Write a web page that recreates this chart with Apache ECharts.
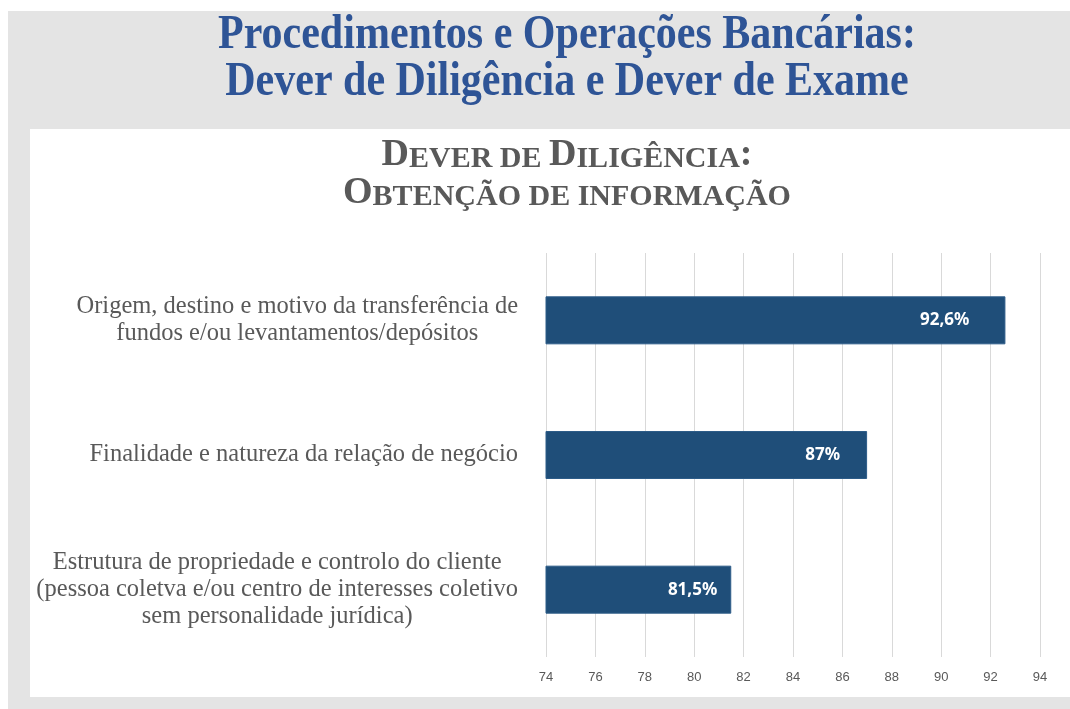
<!DOCTYPE html>
<html>
<head>
<meta charset="utf-8">
<script src="https://cdn.jsdelivr.net/npm/echarts@6/dist/echarts.min.js"></script>
<style>
  html, body { margin: 0; padding: 0; background: #fff; }
  #chart { width: 1070px; height: 709px; }
</style>
</head>
<body>
<div id="chart"></div>
<script>
// dados
const categories = [
  'Origem, destino e motivo da transferência de\nfundos e/ou levantamentos/depósitos',
  'Finalidade e natureza da relação de negócio',
  'Estrutura de propriedade e controlo do cliente\n(pessoa coletva e/ou centro de interesses coletivo\nsem personalidade jurídica)'
];
const values = [92.6, 87, 81.5];
const axisMin = 74;
const axisMax = 94;
const axisStep = 2;

// distancia do rotulo ao fim da barra (estilo, como no original)
const labelGaps = [36, 27, 14];

const serif = '"Liberation Serif", "Times New Roman", serif';
const grey = '#595959';

const chart = echarts.init(document.getElementById('chart'));

// subtitulo em versaletes
function smallCaps(parts, y) {
  return {
    type: 'text', x: 567, y: y, z: 10,
    style: {
      text: parts, align: 'center', verticalAlign: 'bottom',
      rich: {
        b: { fontFamily: serif, fontSize: 38, fontWeight: 'bold', fill: grey, verticalAlign: 'bottom', lineHeight: 40 },
        s: { fontFamily: serif, fontSize: 30, fontWeight: 'bold', fill: grey, verticalAlign: 'bottom', lineHeight: 40 }
      }
    }
  };
}

const option = {
  backgroundColor: '#e4e4e4',
  animation: false,
  graphic: [
    { type: 'rect', z: -10, shape: { x: 0, y: 0, width: 1070, height: 11 }, style: { fill: '#fff' } },
    { type: 'rect', z: -10, shape: { x: 0, y: 0, width: 8, height: 709 }, style: { fill: '#fff' } },
    { type: 'rect', z: -10, shape: { x: 30, y: 129, width: 1040, height: 568 }, style: { fill: '#fff' } },
    {
      type: 'text', x: 567, y: 36, scaleX: 0.875, z: 10,
      style: { text: 'Procedimentos e Operações Bancárias:', fontFamily: serif, fontSize: 48, fontWeight: 'bold', fill: '#2e5496', align: 'center', verticalAlign: 'middle' }
    },
    {
      type: 'text', x: 567, y: 83, scaleX: 0.875, z: 10,
      style: { text: 'Dever de Diligência e Dever de Exame', fontFamily: serif, fontSize: 48, fontWeight: 'bold', fill: '#2e5496', align: 'center', verticalAlign: 'middle' }
    },
    smallCaps('{b|D}{s|EVER DE }{b|D}{s|ILIGÊNCIA}{b|:}', 174),
    smallCaps('{b|O}{s|BTENÇÃO DE INFORMAÇÃO}', 212)
  ],
  grid: { left: 546, right: 30, top: 253, bottom: 52, containLabel: false },
  xAxis: {
    type: 'value',
    min: axisMin,
    max: axisMax,
    interval: axisStep,
    axisLine: { show: false },
    axisTick: { show: false },
    splitLine: { show: true, lineStyle: { color: '#d9d9d9', width: 1 } },
    axisLabel: {
      margin: 14,
      color: grey,
      fontSize: 13,
      fontFamily: '"Liberation Sans Narrow", "Liberation Sans", sans-serif'
    }
  },
  yAxis: {
    type: 'category',
    inverse: true,
    data: categories,
    axisLine: { show: false },
    axisTick: { show: false },
    axisLabel: {
      margin: 28,
      align: 'right',
      formatter: function (v) {
        return v.split('\n').map(function (l) { return '{a|' + l + '}'; }).join('\n');
      },
      rich: {
        a: { align: 'center', fontFamily: serif, fontSize: 24.5, color: grey, lineHeight: 27 }
      }
    }
  },
  series: [{
    type: 'bar',
    data: values.map(function (v, i) {
      return { value: v, label: { distance: labelGaps[i] } };
    }),
    barWidth: 48,
    itemStyle: { color: '#1f4e79', borderColor: '#2d5c88', borderWidth: 1 },
    label: {
      show: true,
      position: 'insideRight',
      color: '#fff',
      fontFamily: '"Noto Sans", sans-serif',
      fontWeight: 'bold',
      fontSize: 17,
      formatter: function (p) { return String(p.value).replace('.', ',') + '%'; }
    }
  }]
};

chart.setOption(option);
</script>
</body>
</html>
